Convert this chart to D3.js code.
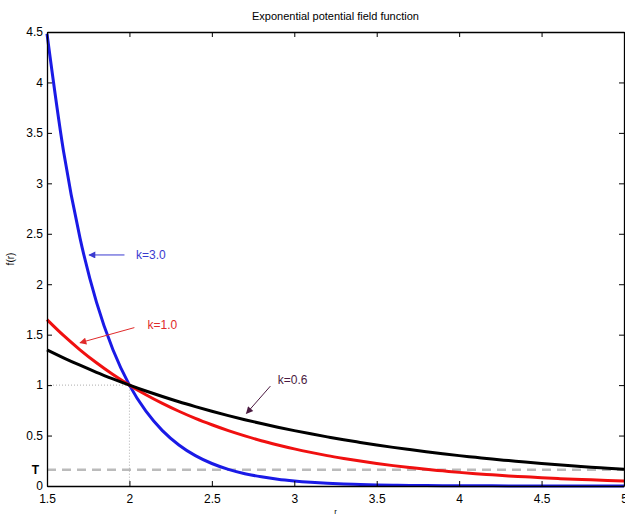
<!DOCTYPE html>
<html>
<head>
<meta charset="utf-8">
<script src="https://cdn.jsdelivr.net/npm/d3@7"></script>
<style>
  body { margin: 0; background: #fff; }
  text { font-family: "Liberation Sans", Arial, sans-serif; }
</style>
</head>
<body>
<div id="chart"></div>
<script>
// Set the dimensions of the canvas / graph
var margin = { top: 32, right: 1, bottom: 30, left: 47 },
    width = 625 - margin.left - margin.right,
    height = 516 - margin.top - margin.bottom;

// r values and curves
var rValues = [1.5, 1.6, 1.7, 1.8, 1.9, 2.0, 2.1, 2.2, 2.3, 2.4, 2.5, 2.6, 2.7, 2.8, 2.9, 3.0,
    3.1, 3.2, 3.3, 3.4, 3.5, 3.6, 3.7, 3.8, 3.9, 4.0, 4.1, 4.2, 4.3, 4.4, 4.5, 4.6, 4.7, 4.8, 4.9, 5.0];

var k30 = [4.482, 3.320, 2.460, 1.822, 1.350, 1.000, 0.741, 0.549, 0.407, 0.301, 0.223, 0.165, 0.122, 0.091, 0.067, 0.050,
    0.037, 0.027, 0.020, 0.015, 0.011, 0.008, 0.006, 0.0045, 0.0033, 0.0025, 0.0018, 0.0014, 0.001, 0.0008,
    0.0006, 0.0004, 0.0003, 0.0002, 0.0002, 0.0001];

var k10 = [1.649, 1.492, 1.350, 1.221, 1.105, 1.000, 0.905, 0.819, 0.741, 0.670, 0.607, 0.549, 0.497, 0.449, 0.407, 0.368,
    0.333, 0.301, 0.273, 0.247, 0.223, 0.202, 0.183, 0.165, 0.150, 0.135, 0.122, 0.111, 0.100, 0.091,
    0.082, 0.074, 0.067, 0.061, 0.055, 0.050];

var k06 = [1.350, 1.271, 1.197, 1.127, 1.062, 1.000, 0.942, 0.887, 0.835, 0.787, 0.741, 0.698, 0.657, 0.619, 0.583, 0.549,
    0.517, 0.487, 0.458, 0.432, 0.407, 0.383, 0.361, 0.340, 0.320, 0.301, 0.284, 0.267, 0.252, 0.237,
    0.223, 0.210, 0.198, 0.186, 0.176, 0.165];

var xTicks = [1.5, 2, 2.5, 3, 3.5, 4, 4.5, 5];
var yTicks = [0, 0.5, 1, 1.5, 2, 2.5, 3, 3.5, 4, 4.5];

var threshold = 0.16;

// annotations: label, label position, arrow tail, arrow head (data space)
var notes = [
    { label: "k=3.0", color: "#3a3ad0", tx: 2.04, ty: 2.29, x1: 1.97, y1: 2.29, x2: 1.755, y2: 2.29 },
    { label: "k=1.0", color: "#e02a2a", tx: 2.11, ty: 1.60, x1: 2.03, y1: 1.57, x2: 1.70, y2: 1.42 },
    { label: "k=0.6", color: "#4a1a40", tx: 2.90, ty: 1.05, x1: 2.855, y1: 0.99, x2: 2.71, y2: 0.72 }
];

var series = [
    { name: "k=3.0", values: k30, color: "#1a1ae6" },
    { name: "k=1.0", values: k10, color: "#f01010" },
    { name: "k=0.6", values: k06, color: "#000000" }
];

// Set the ranges
var x = d3.scaleLinear().domain([1.5, 5]).range([0, width]);
var y = d3.scaleLinear().domain([0, 4.5]).range([height, 0]);

var svg = d3.select("#chart")
    .append("svg")
    .attr("width", 625)
    .attr("height", 516);

var chart = svg.append("g")
    .attr("transform", "translate(" + margin.left + "," + margin.top + ")");

// arrow head
svg.append("defs").selectAll("marker")
    .data(notes)
    .enter()
    .append("marker")
    .attr("id", function (d, i) { return "arrow" + i; })
    .attr("viewBox", "0 0 10 10")
    .attr("refX", 9)
    .attr("refY", 5)
    .attr("markerWidth", 9)
    .attr("markerHeight", 7)
    .attr("markerUnits", "userSpaceOnUse")
    .attr("orient", "auto")
    .append("path")
    .attr("d", "M0,0L10,5L0,10z")
    .style("fill", function (d) { return d.color; });

// Title
svg.append("text")
    .attr("x", margin.left + width / 2)
    .attr("y", 20)
    .attr("text-anchor", "middle")
    .style("font-size", "11px")
    .text("Exponential potential field function");

// Threshold line
chart.append("line")
    .attr("x1", 0).attr("x2", width)
    .attr("y1", y(threshold)).attr("y2", y(threshold))
    .style("stroke", "#bbbbbb")
    .style("stroke-width", 2.5)
    .style("stroke-dasharray", "9,6");

// Dotted guides at (2, 1)
chart.append("path")
    .attr("d", "M0," + y(1) + "H" + x(2) + "V" + y(0))
    .style("fill", "none")
    .style("stroke", "#999")
    .style("stroke-width", 0.8)
    .style("stroke-dasharray", "1,2");

// Curves
var line = d3.line()
    .curve(d3.curveMonotoneX)
    .x(function (d, i) { return x(rValues[i]); })
    .y(function (d) { return y(d); });

chart.selectAll(".curve")
    .data(series)
    .enter()
    .append("path")
    .attr("class", "curve")
    .attr("d", function (d) { return line(d.values); })
    .style("fill", "none")
    .style("stroke", function (d) { return d.color; })
    .style("stroke-width", 3);

// Axes: MATLAB style box with inward ticks
chart.append("g")
    .attr("transform", "translate(0," + height + ")")
    .call(d3.axisBottom(x).tickValues(xTicks).tickSizeInner(-5).tickSizeOuter(0).tickPadding(8)
        .tickFormat(function (d) { return d; }));
chart.append("g")
    .call(d3.axisTop(x).tickValues(xTicks).tickSizeInner(-5).tickSizeOuter(0).tickFormat(""));
chart.append("g")
    .call(d3.axisLeft(y).tickValues(yTicks).tickSizeInner(-5).tickSizeOuter(0).tickPadding(4)
        .tickFormat(function (d) { return d; }));
chart.append("g")
    .attr("transform", "translate(" + width + ",0)")
    .call(d3.axisRight(y).tickValues(yTicks).tickSizeInner(-5).tickSizeOuter(0).tickFormat(""));

chart.selectAll(".domain").style("stroke", "#000").style("stroke-width", 1.3);
chart.selectAll(".tick line").style("stroke", "#000");
chart.selectAll(".tick text").style("font-size", "12px").style("fill", "#000");

// T label
chart.append("text")
    .attr("x", -8)
    .attr("y", y(threshold))
    .attr("dy", "0.35em")
    .attr("text-anchor", "end")
    .style("font-size", "12px")
    .style("font-weight", "bold")
    .text("T");

// Axis labels
svg.append("text")
    .attr("transform", "translate(14," + (margin.top + height / 2) + ") rotate(-90)")
    .attr("text-anchor", "middle")
    .style("font-size", "10px")
    .text("f(r)");

svg.append("text")
    .attr("x", margin.left + width / 2)
    .attr("y", 514)
    .attr("text-anchor", "middle")
    .style("font-size", "8px")
    .text("r");

// Annotations
chart.selectAll(".note-arrow")
    .data(notes)
    .enter()
    .append("line")
    .attr("class", "note-arrow")
    .attr("x1", function (d) { return x(d.x1); })
    .attr("y1", function (d) { return y(d.y1); })
    .attr("x2", function (d) { return x(d.x2); })
    .attr("y2", function (d) { return y(d.y2); })
    .style("stroke", function (d) { return d.color; })
    .style("stroke-width", 1)
    .attr("marker-end", function (d, i) { return "url(#arrow" + i + ")"; });

chart.selectAll(".note-label")
    .data(notes)
    .enter()
    .append("text")
    .attr("class", "note-label")
    .attr("x", function (d) { return x(d.tx); })
    .attr("y", function (d) { return y(d.ty); })
    .attr("dy", "0.35em")
    .style("font-size", "12px")
    .style("fill", function (d) { return d.color; })
    .text(function (d) { return d.label; });
</script>
</body>
</html>
